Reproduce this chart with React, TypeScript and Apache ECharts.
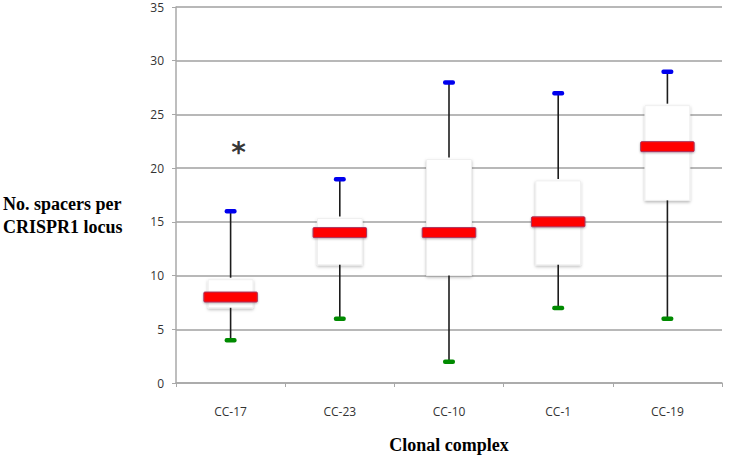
import React, { useEffect, useRef } from "react";
import * as echarts from "echarts";

const categories = ["CC-17", "CC-23", "CC-10", "CC-1", "CC-19"];
const minVals = [4, 6, 2, 7, 6];
const q1Vals = [7, 11, 10, 11, 17];
const medianVals = [8, 14, 14, 15, 22];
const q3Vals = [9.8, 15.5, 21, 19, 26];
const maxVals = [16, 19, 28, 27, 29];
const markCategories = ["CC-17"];
const markValues = [22];
const markLabels = ["*"];
const yTitle = "No. spacers per\nCRISPR1 locus";
const xTitle = "Clonal complex";

export default function App() {
  const ref = useRef<HTMLDivElement>(null);
  useEffect(() => {
    if (!ref.current) return;
    const chart = echarts.init(ref.current, null, { renderer: "svg" });
    const boxData = categories.map((_, i) => [
      i,
      minVals[i],
      q1Vals[i],
      medianVals[i],
      q3Vals[i],
      maxVals[i],
    ]);
    const renderItem = (params: any, api: any) => {
      const x = api.value(0);
      const pMin = api.coord([x, api.value(1)]);
      const pQ1 = api.coord([x, api.value(2)]);
      const pMed = api.coord([x, api.value(3)]);
      const pQ3 = api.coord([x, api.value(4)]);
      const pMax = api.coord([x, api.value(5)]);
      const band = api.size([1, 0])[0];
      const cx = pMed[0];
      const bw = band * 0.41;
      const mw = band * 0.49;
      const cw = 12;
      const whisker = { stroke: "#1c1c1c", lineWidth: 1.6 };
      return {
        type: "group",
        children: [
          {
            type: "rect",
            shape: { x: cx - bw / 2, y: pQ3[1] + 2, width: bw, height: pQ1[1] - pQ3[1] - 2 },
            style: {
              fill: "#ffffff",
              stroke: "#f0f0f0",
              lineWidth: 1,
              shadowBlur: 3,
              shadowOffsetY: 1.5,
              shadowColor: "rgba(0,0,0,0.28)",
            },
          },
          {
            type: "line",
            shape: { x1: cx, y1: pMax[1], x2: cx, y2: pQ3[1] },
            style: whisker,
          },
          {
            type: "line",
            shape: { x1: cx, y1: pQ1[1], x2: cx, y2: pMin[1] },
            style: whisker,
          },
          {
            type: "rect",
            shape: { x: cx - mw / 2, y: pMed[1] - 5, width: mw, height: 10, r: 1 },
            style: {
              fill: "#ff0000",
              stroke: "#a8345e",
              lineWidth: 1,
              shadowBlur: 2,
              shadowOffsetY: 1,
              shadowColor: "rgba(0,0,0,0.3)",
            },
          },
          {
            type: "rect",
            shape: { x: cx - cw / 2, y: pMax[1] - 2, width: cw, height: 4.5, r: 2 },
            style: { fill: "#0000ee" },
          },
          {
            type: "rect",
            shape: { x: cx - cw / 2, y: pMin[1] - 2, width: cw, height: 4.5, r: 2 },
            style: { fill: "#008a00" },
          },
        ],
      };
    };
    chart.setOption({
      animation: false,
      backgroundColor: "#ffffff",
      grid: { left: 176, right: 7, top: 7, bottom: 77 },
      xAxis: {
        type: "category",
        data: categories,
        boundaryGap: true,
        axisLine: { lineStyle: { color: "#a8a8a8", width: 1.5 } },
        axisTick: { show: true, length: 4, lineStyle: { color: "#a8a8a8" } },
        axisLabel: {
          margin: 22,
          fontFamily: "Open Sans",
          fontSize: 12,
          color: "#333333",
        },
        splitLine: { show: false },
      },
      yAxis: {
        type: "value",
        min: 0,
        max: 35,
        interval: 5,
        axisLine: { show: true, lineStyle: { color: "#a8a8a8", width: 1.5 } },
        axisTick: { show: true, length: 4, lineStyle: { color: "#a8a8a8" } },
        axisLabel: {
          margin: 12,
          fontFamily: "Open Sans",
          fontSize: 12,
          color: "#333333",
        },
        splitLine: { show: true, lineStyle: { color: "#a0a0a0", width: 1.5 } },
      },
      graphic: [
        {
          type: "text",
          left: 3,
          top: 192,
          style: {
            text: yTitle,
            font: "bold 18px 'Liberation Serif'",
            fill: "#000",
            lineHeight: 23,
          },
        },
        {
          type: "text",
          x: 449,
          y: 445,
          style: {
            text: xTitle,
            font: "bold 18px 'Liberation Serif'",
            fill: "#000",
            align: "center",
            verticalAlign: "middle",
          },
        },
      ],
      series: [
        {
          type: "custom",
          renderItem,
          data: boxData,
          encode: { x: 0, y: [1, 2, 3, 4, 5] },
          z: 3,
        },
        {
          type: "scatter",
          symbolSize: 0,
          itemStyle: { color: "#000000" },
          data: markCategories.map((c, i) => [c, markValues[i], markLabels[i]]),
          label: {
            show: true,
            position: "inside",
            formatter: (p: any) => p.value[2],
            fontFamily: "DejaVu Sans",
            fontWeight: "bold",
            fontSize: 28,
            color: "#000000",
            textBorderWidth: 0,
            textBorderColor: "transparent",
            offset: [8, 6],
          },
          z: 4,
        },
      ],
    });
    return () => chart.dispose();
  }, []);
  return (
    <div
      ref={ref}
      style={{ position: "fixed", left: 0, top: 0, width: 729, height: 460 }}
    />
  );
}
